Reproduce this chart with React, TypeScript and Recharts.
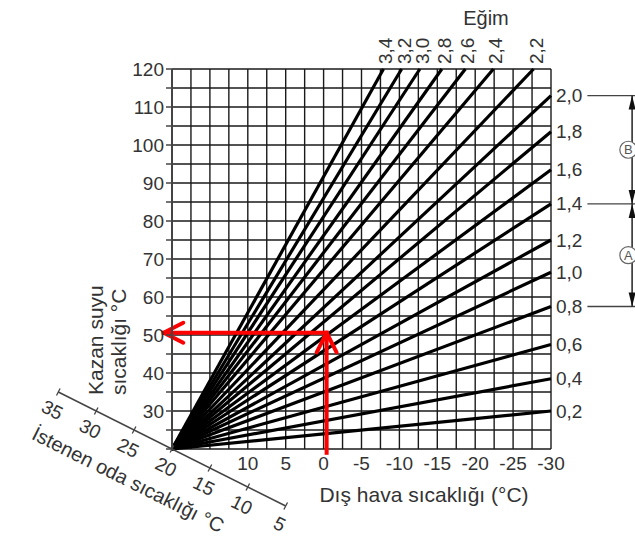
import React from 'react';
import { LineChart, Line, XAxis, YAxis, CartesianGrid, ReferenceLine, ReferenceDot } from 'recharts';

// outdoor temperature axis (reversed: 20 on the left, -30 on the right)
const xTicks = [20, 17.5, 15, 12.5, 10, 7.5, 5, 2.5, 0, -2.5, -5, -7.5, -10, -12.5, -15, -17.5, -20, -22.5, -25, -27.5, -30];
const xLabels = [10, 5, 0, -5, -10, -15, -20, -25, -30];

// boiler water temperature axis
const yTicks = [20, 25, 30, 35, 40, 45, 50, 55, 60, 65, 70, 75, 80, 85, 90, 95, 100, 105, 110, 115, 120];
const yLabels = [30, 40, 50, 60, 70, 80, 90, 100, 110, 120];

// all curves start from the 20 / 20 point
const origin = { x: 20, y: 20 };

// steep curves, leaving through the top edge (y = 120)
const topSlopes = ['3,4', '3,2', '3,0', '2,8', '2,6', '2,4', '2,2'];
const topEndX = [-7.9, -10.3, -12.7, -15.6, -18.7, -22.4, -27.7];

// flatter curves, leaving through the right edge (x = -30)
const sideSlopes = ['2,0', '1,8', '1,6', '1,4', '1,2', '1,0', '0,8', '0,6', '0,4', '0,2'];
const sideEndY = [113, 103.5, 93.5, 84.5, 75, 66.5, 57.5, 47.5, 38.5, 30];

// desired room temperature scale (the diagonal)
const roomTicks = [35, 30, 25, 20, 15, 10, 5];

// example reading: 0 °C outside -> 50 °C boiler water
const readX = -0.4;
const readY = 50.6;

// ranges marked on the right
const ranges = [
  { name: 'B', from: '2,0', to: '1,4' },
  { name: 'A', from: '1,4', to: '0,8' },
];

const W = 635;
const H = 537;
const PLOT = { left: 172, top: 69, right: 551, bottom: 449 };
const ANGLE = Math.atan2((PLOT.bottom - PLOT.top) / 100, (PLOT.right - PLOT.left) / 50);
const DEG = (ANGLE * 180) / Math.PI;
const TXT = '#333';
const FONT = '"Liberation Sans", Arial, sans-serif';

const sideY = (s: string) => sideEndY[sideSlopes.indexOf(s)];

const curves = [
  ...topSlopes.map((s, i) => ({ name: s, data: [origin, { x: topEndX[i], y: 120 }] })),
  ...sideSlopes.map((s, i) => ({ name: s, data: [origin, { x: -30, y: sideEndY[i] }] })),
];

function RedArrow(p: any) {
  const { x1, y1, x2, y2 } = p;
  const a = Math.atan2(y2 - y1, x2 - x1);
  const len = 22;
  const sp = 0.47;
  const w1 = `${x2 - len * Math.cos(a - sp)},${y2 - len * Math.sin(a - sp)}`;
  const w2 = `${x2 - len * Math.cos(a + sp)},${y2 - len * Math.sin(a + sp)}`;
  return (
    <g>
      <line x1={x1} y1={y1} x2={x2} y2={y2} stroke="#ff0000" strokeWidth={4} strokeLinecap="square" />
      <polyline points={`${w1} ${x2},${y2} ${w2}`} fill="none" stroke="#ff0000" strokeWidth={4} strokeLinecap="round" strokeLinejoin="round" />
    </g>
  );
}

function DoubleArrow(p: any) {
  const { x1, y1, x2, y2 } = p;
  const dir = y2 > y1 ? 1 : -1;
  const hl = 14;
  const hw = 3.5;
  return (
    <g>
      <line x1={x1} y1={y1} x2={x2} y2={y2} stroke="#222" strokeWidth={1.5} />
      <polygon points={`${x1},${y1} ${x1 - hw},${y1 + dir * hl} ${x1 + hw},${y1 + dir * hl}`} fill="#111" />
      <polygon points={`${x2},${y2} ${x2 - hw},${y2 - dir * hl} ${x2 + hw},${y2 - dir * hl}`} fill="#111" />
    </g>
  );
}

function RoomAxis(p: any) {
  const { x1, y1, x2, y2 } = p;
  const f = 0.4;
  const nx = -Math.sin(ANGLE);
  const ny = Math.cos(ANGLE);
  const cx = x1 + (x2 - x1) * f + nx * 47;
  const cy = y1 + (y2 - y1) * f + ny * 47;
  return (
    <g>
      <line x1={x1} y1={y1} x2={x2} y2={y2} stroke="#444" strokeWidth={1.5} />
      <text x={cx} y={cy} textAnchor="middle" dominantBaseline="central" fontSize={20} fill={TXT}
        transform={`rotate(${DEG} ${cx} ${cy})`}>
        İstenen oda sıcaklığı °C
      </text>
    </g>
  );
}

export default function App() {
  return (
    <div style={{ position: 'absolute', left: 0, top: 0, width: W, height: H, background: '#fff', fontFamily: FONT }}>
      <LineChart width={W} height={H} margin={{ top: PLOT.top, right: W - PLOT.right, left: 0, bottom: 58 }}>
        <CartesianGrid stroke="#1a1a1a" strokeWidth={1.4} />
        <XAxis
          dataKey="x"
          type="number"
          domain={[-30, 20]}
          reversed
          ticks={xTicks}
          interval={0}
          height={30}
          tickLine={false}
          axisLine={false}
          tickSize={6}
          tick={{ fill: TXT, fontSize: 19 }}
          tickFormatter={(v: number) => (xLabels.includes(v) ? String(v) : '')}
        />
        <YAxis
          type="number"
          domain={[20, 120]}
          ticks={yTicks}
          interval={0}
          width={PLOT.left}
          tickSize={6}
          tickMargin={2}
          tickLine={{ stroke: '#444', strokeWidth: 1.5 }}
          axisLine={{ stroke: '#444', strokeWidth: 2 }}
          tick={{ fill: TXT, fontSize: 19 }}
          tickFormatter={(v: number) => (yLabels.includes(v) ? String(v) : '')}
        />

        {curves.map((c) => (
          <Line key={c.name} data={c.data} dataKey="y" stroke="#000" strokeWidth={3.2} dot={false} isAnimationActive={false} />
        ))}

        {topSlopes.map((s, i) => (
          <ReferenceDot key={'t' + s} x={topEndX[i]} y={120} r={0} ifOverflow="visible"
            shape={(p: any) => (
              <text x={p.cx + 9} y={p.cy - 5} textAnchor="start" fontSize={19} fill={TXT}
                transform={`rotate(-90 ${p.cx + 9} ${p.cy - 5})`}>{s}</text>
            )} />
        ))}
        {sideSlopes.map((s, i) => (
          <ReferenceDot key={'s' + s} x={-30} y={sideEndY[i]} r={0} ifOverflow="visible"
            shape={(p: any) => (
              <text x={p.cx + 5} y={p.cy} textAnchor="start" dominantBaseline="central" fontSize={19} fill={TXT}>{s}</text>
            )} />
        ))}

        {ranges.map((r) => [r.from, r.to]).flat().filter((v, i, a) => a.indexOf(v) === i).map((s) => (
          <ReferenceLine key={'h' + s} segment={[{ x: -34.8, y: sideY(s) }, { x: -42, y: sideY(s) }]} ifOverflow="visible" stroke="#444" strokeWidth={1.3} />
        ))}
        {ranges.map((r) => (
          <ReferenceLine key={'r' + r.name} segment={[{ x: -40.7, y: sideY(r.from) }, { x: -40.7, y: sideY(r.to) }]} ifOverflow="visible" shape={DoubleArrow} />
        ))}
        {ranges.map((r) => (
          <ReferenceDot key={'c' + r.name} x={-40.2} y={(sideY(r.from) + sideY(r.to)) / 2} r={0} ifOverflow="visible"
            shape={(p: any) => (
              <g>
                <circle cx={p.cx} cy={p.cy} r={8.5} fill="#fff" stroke="#666" strokeWidth={1.2} />
                <text x={p.cx} y={p.cy} textAnchor="middle" dominantBaseline="central" fontSize={13} fill="#555">{r.name}</text>
              </g>
            )} />
        ))}

        <ReferenceLine segment={[{ x: roomTicks[0], y: roomTicks[0] }, { x: roomTicks[roomTicks.length - 1], y: roomTicks[roomTicks.length - 1] }]}
          ifOverflow="visible" shape={RoomAxis} />
        {roomTicks.map((t) => (
          <ReferenceDot key={'rt' + t} x={t} y={t} r={0} ifOverflow="visible"
            shape={(p: any) => {
              const nx = -Math.sin(ANGLE) * 4;
              const ny = Math.cos(ANGLE) * 4;
              const lx = p.cx - 6;
              const ly = p.cy + 18;
              return (
                <g>
                  <line x1={p.cx - nx} y1={p.cy - ny} x2={p.cx + nx} y2={p.cy + ny} stroke="#444" strokeWidth={1.3} />
                  <text x={lx} y={ly} textAnchor="middle" dominantBaseline="central" fontSize={19} fill={TXT}
                    transform={`rotate(${DEG} ${lx} ${ly})`}>{t}</text>
                </g>
              );
            }} />
        ))}

        <ReferenceLine segment={[{ x: readX, y: 19 }, { x: readX, y: readY }]} ifOverflow="visible" shape={RedArrow} />
        <ReferenceLine segment={[{ x: readX, y: readY }, { x: 21.1, y: readY }]} ifOverflow="visible" shape={RedArrow} />

        <text x={486} y={18} textAnchor="middle" dominantBaseline="central" fontSize={20} fill={TXT}>Eğim</text>
        <text x={424} y={494} textAnchor="middle" dominantBaseline="central" fontSize={21} fill={TXT}>Dış hava sıcaklığı (°C)</text>
        <text x={95} y={395} textAnchor="start" dominantBaseline="central" fontSize={21} fill={TXT}
          transform="rotate(-90 95 395)">Kazan suyu</text>
        <text x={118} y={395} textAnchor="start" dominantBaseline="central" fontSize={21} fill={TXT}
          transform="rotate(-90 118 395)">sıcaklığı °C</text>
      </LineChart>
    </div>
  );
}
